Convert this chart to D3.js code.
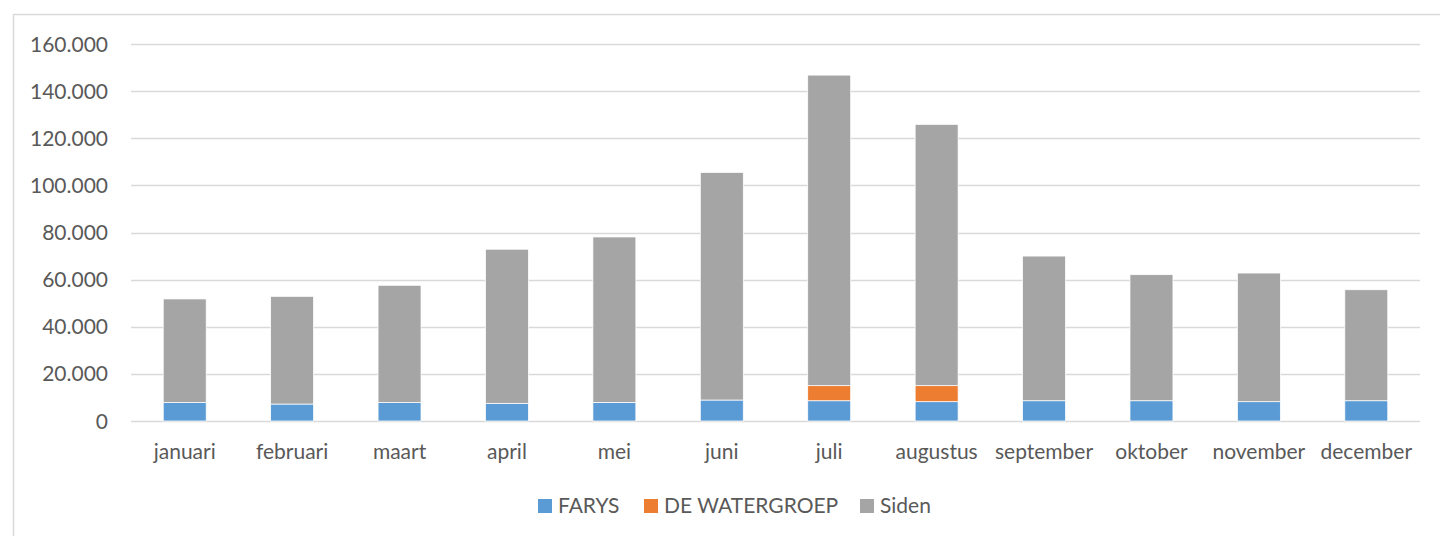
<!DOCTYPE html>
<html><head><meta charset="utf-8">
<script src="https://cdn.jsdelivr.net/npm/d3@7"></script>
<style>html,body{margin:0;padding:0;background:#fff;overflow:hidden}svg{display:block}</style>
</head><body><svg id="c" width="1440" height="536"></svg>
<script>
const months = ["januari","februari","maart","april","mei","juni","juli","augustus","september","oktober","november","december"];
const farys = [7800,7200,7800,7500,7900,8900,8600,8200,8600,8600,8200,8600];
const deWatergroep = [0,0,0,0,0,0,6400,6800,0,0,0,0];
const siden = [44000,45700,49800,65400,70200,96600,131800,110900,61400,53500,54600,47100];
const yTicks = [0,20000,40000,60000,80000,100000,120000,140000,160000];
const seriesNames = ["FARYS","DE WATERGROEP","Siden"];
const colors = ["#5B9BD5","#ED7D31","#A5A5A5"];

const svg = d3.select("#c");
const font = "Lato, 'Open Sans', sans-serif";
const textColor = "#595959";

svg.append("rect").attr("x",13.5).attr("y",14.5).attr("width",1600).attr("height",700)
  .attr("fill","#fff").attr("stroke","#D9D9D9").attr("stroke-width",1.5);

const x = d3.scaleBand().domain(months).range([131,1420]).padding(0);
const y = d3.scaleLinear().domain([0,160000]).range([421,44]);

const fmt = v => d3.format(",")(v).replace(/,/g,".");

// gridlines
svg.append("g").selectAll("line").data(yTicks).join("line")
  .attr("x1",131).attr("x2",1420)
  .attr("y1",d=>Math.round(y(d))+0.5).attr("y2",d=>Math.round(y(d))+0.5)
  .attr("stroke","#D9D9D9").attr("stroke-width",1.5);

// y labels
svg.append("g").selectAll("text").data(yTicks).join("text")
  .attr("x",108).attr("y",d=>y(d)).attr("dy","0.36em")
  .attr("text-anchor","end").attr("fill",textColor)
  .style("font-family",font).style("font-size","21px")
  .text(d=>fmt(d));

// stacks
const rows = months.map((m,i)=>({month:m, FARYS:farys[i], "DE WATERGROEP":deWatergroep[i], Siden:siden[i]}));
const stack = d3.stack().keys(seriesNames)(rows);
const bw = x.bandwidth()*0.4;
svg.append("g").selectAll("g").data(stack).join("g")
  .attr("fill",(d,i)=>colors[i])
  .selectAll("rect").data(d=>d.filter(p=>p[1]>p[0])).join("rect")
  .attr("x",d=>x(d.data.month)+x.bandwidth()/2-bw/2)
  .attr("width",bw)
  .attr("y",d=>y(d[1]))
  .attr("height",d=>y(d[0])-y(d[1]))
  .attr("stroke","#fff").attr("stroke-width",0.75);

// x labels
svg.append("g").selectAll("text").data(months).join("text")
  .attr("x",d=>x(d)+x.bandwidth()/2).attr("y",459)
  .attr("text-anchor","middle").attr("fill",textColor)
  .style("font-family",font).style("font-size","21px")
  .text(d=>d);

// legend
const legendX = [538,644,860];
const lg = svg.append("g").selectAll("g").data(seriesNames).join("g")
  .attr("transform",(d,i)=>`translate(${legendX[i]},499)`);
lg.append("rect").attr("width",14).attr("height",14).attr("fill",(d,i)=>colors[i]);
lg.append("text").attr("x",20).attr("y",14).attr("fill",textColor)
  .style("font-family",font).style("font-size","21px").text(d=>d);
</script></body></html>
